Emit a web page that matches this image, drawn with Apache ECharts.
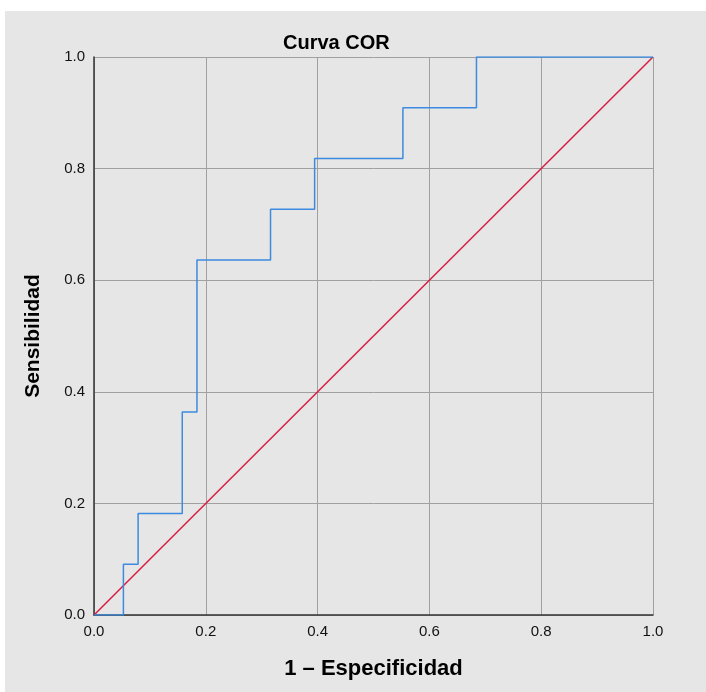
<!DOCTYPE html>
<html>
<head>
<meta charset="utf-8">
<script src="https://cdn.jsdelivr.net/npm/echarts@6/dist/echarts.min.js"></script>
<style>
html,body{margin:0;padding:0;background:#fff;}
#c{width:706px;height:692px;}
</style>
</head>
<body>
<div id="c"></div>
<script>
// ROC curve corner points (1 - Especificidad, Sensibilidad)
var rocFpr = [0, 0.0526, 0.0526, 0.0789, 0.0789, 0.1579, 0.1579, 0.1842, 0.1842, 0.3158, 0.3158, 0.3947, 0.3947, 0.5526, 0.5526, 0.6842, 0.6842, 1.0];
var rocTpr = [0, 0, 0.0909, 0.0909, 0.1818, 0.1818, 0.3636, 0.3636, 0.6364, 0.6364, 0.7273, 0.7273, 0.8182, 0.8182, 0.9091, 0.9091, 1.0, 1.0];
// Reference diagonal
var refX = [0, 1];
var refY = [0, 1];

var rocData = rocFpr.map(function (x, i) { return [x, rocTpr[i]]; });
var refData = refX.map(function (x, i) { return [x, refY[i]]; });

var chart = echarts.init(document.getElementById('c'), null, {renderer: 'canvas'});
var FONT = 'Liberation Sans';
chart.setOption({
  backgroundColor: '#ffffff',
  animation: false,
  graphic: [{
    type: 'rect', z: -10, silent: true,
    shape: {x: 5, y: 11, width: 701, height: 681},
    style: {fill: '#e6e6e6'}
  }],
  title: {
    text: 'Curva COR',
    left: 278, top: 28,
    textStyle: {fontFamily: FONT, fontSize: 20, fontWeight: 'bold', color: '#000'}
  },
  grid: {left: 94, top: 57, width: 559, height: 558, containLabel: false},
  xAxis: {
    type: 'value', min: 0, max: 1, interval: 0.2,
    name: '1 \u2013 Especificidad', nameLocation: 'middle', nameGap: 43,
    nameTextStyle: {fontFamily: FONT, fontSize: 22, fontWeight: 'bold', color: '#000'},
    axisLine: {show: true, onZero: false, lineStyle: {color: '#333', width: 1.5}},
    axisTick: {show: false},
    axisLabel: {fontFamily: FONT, fontSize: 15, color: '#111', margin: 9,
      formatter: function (v) { return v.toFixed(1); }},
    splitLine: {show: true, lineStyle: {color: '#a0a0a0', width: 1}}
  },
  yAxis: {
    type: 'value', min: 0, max: 1, interval: 0.2,
    name: 'Sensibilidad', nameLocation: 'middle', nameGap: 50,
    nameTextStyle: {fontFamily: FONT, fontSize: 21, fontWeight: 'bold', color: '#000'},
    axisLine: {show: true, onZero: false, lineStyle: {color: '#333', width: 1.5}},
    axisTick: {show: false},
    axisLabel: {fontFamily: FONT, fontSize: 15, color: '#111', margin: 9,
      formatter: function (v) { return v.toFixed(1); }},
    splitLine: {show: true, lineStyle: {color: '#a0a0a0', width: 1}}
  },
  series: [{
    type: 'line', data: refData, symbol: 'none', silent: true,
    lineStyle: {color: '#d81e40', width: 1.5}, z: 3
  }, {
    type: 'line', data: rocData, symbol: 'none', silent: true,
    lineStyle: {color: '#3d8ae0', width: 1.5}, z: 4
  }]
});
</script>
</body>
</html>
